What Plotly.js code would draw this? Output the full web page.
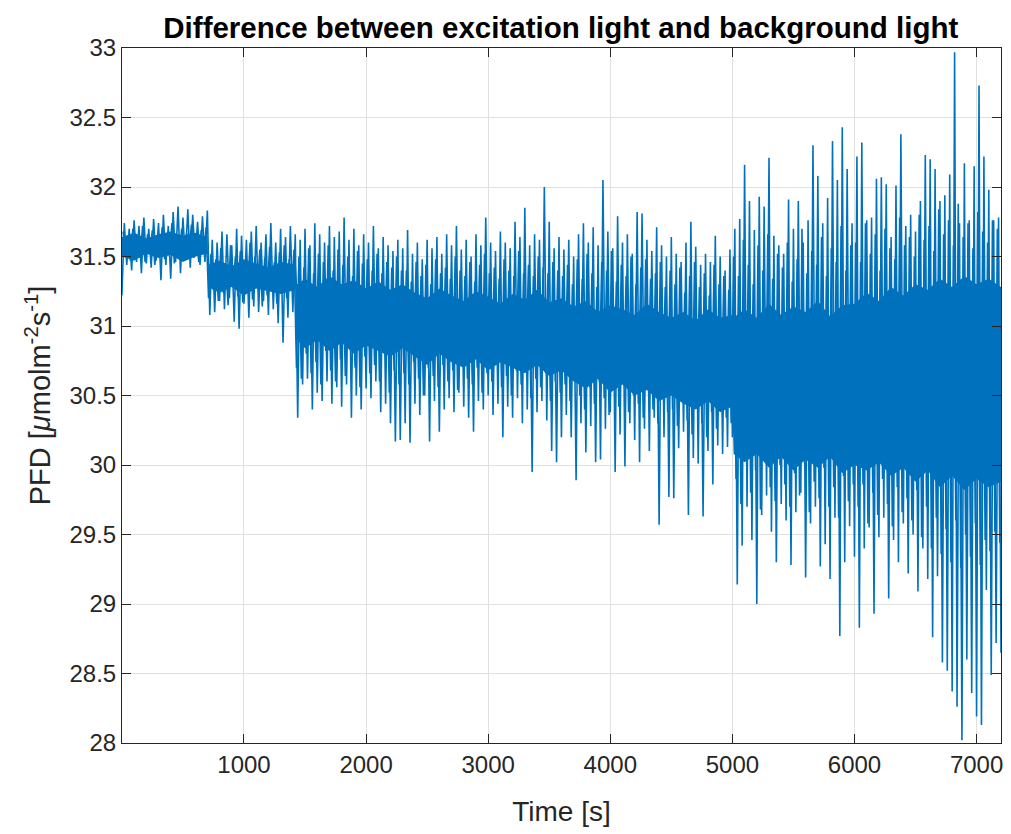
<!DOCTYPE html>
<html>
<head>
<meta charset="utf-8">
<script src="https://cdn.plot.ly/plotly-3.0.1.min.js"></script>
<style>html,body{margin:0;padding:0;background:#fff;}#chart{width:1011px;height:834px;}</style>
</head>
<body>
<div id="chart"></div>
<script>
// sampling step of the read-off series [s]
const timeStep = 20;

// PFD values: outer excursions (t = 0, 20, 40, ...)
const pfdSeg1 = [31.22,31.74,31.44,31.70,31.40,31.76,31.46,31.72,31.38,31.78,31.45,31.70,31.42,31.77,31.47,31.74,31.33,31.80,31.44,31.72,31.34,31.82,31.46,31.86,31.38,31.78,31.48,31.84,31.42,31.80,31.50,31.75,31.44,31.79,31.46,31.83];
const pfdSeg2 = [31.08,31.62,31.10,31.60,31.18,31.68,31.12,31.66,31.20,31.58,31.03,31.70,30.98,31.65,31.16,31.62,31.06,31.68,31.14,31.72,31.10,31.60,31.18,31.66,31.08,31.74,31.12,31.60,31.02,31.70,30.88,31.64,31.06,31.72,31.10,31.66];
const pfdSeg3 = [30.34,31.62,30.58,31.70,30.62,31.58,30.40,31.74,30.52,31.66,30.46,31.60,30.60,31.72,30.44,31.64,30.56,31.68,30.42,31.78,30.58,31.62,30.34,31.70,30.50,31.58,30.40,31.66,30.55,31.60,30.48,31.72,30.60,31.56,30.38,31.64,30.44,31.58,30.30,31.54,30.17,31.62,30.18,31.56];
const pfdSeg4 = [30.30,31.69,30.16,31.52,30.44,31.60,30.36,31.48,30.50,31.62,30.17,31.56,30.46,31.64,30.24,31.52,30.40,31.66,30.48,31.58,30.38,31.72,30.52,31.55,30.42,31.62,30.34,31.50,30.24,31.66,30.46,31.58,30.40,31.78,30.50,31.60,30.36,31.54,30.44,31.68,30.20,31.60,30.42,31.56,30.34,31.75,30.48,31.64,30.30,31.85,30.40,31.58,29.95,31.66,30.38,31.62,30.46,32.00,30.32,31.75,30.10,31.56,30.02,31.64];
const pfdSeg5 = [30.20,31.55,30.36,31.62,30.20,31.50,29.89,31.66,30.30,31.74,30.09,31.60,30.28,31.71,30.02,31.58,30.04,32.05,30.26,31.68,30.38,31.56,29.95,31.79,30.22,31.60,29.99,31.66,30.30,31.52,30.18,31.82,30.02,31.81,30.26,31.62,30.10,31.54,30.34,31.71,29.57,31.58,30.20,31.50,29.77,31.64];
const pfdSeg6 = [29.76,31.52,30.12,31.46,30.24,31.60,29.64,31.75,30.05,31.57,30.01,31.44,29.63,31.52,30.10,31.46,29.86,31.65,30.14,31.50,30.08,31.40,30.13,31.55,30.20];
const pfdSeg7 = [31.70,29.14,31.77,29.42,32.16,29.70,31.90,29.46,31.69,29.00,31.93,29.64,31.86,29.78,32.21,29.52,31.65,29.30,31.58,29.72,31.52,29.60,31.91,29.28,31.70,29.66,31.90,29.80,31.60,29.19,31.76,29.58,32.30,29.70,32.08,29.27,31.74,29.43,31.92,29.18,32.33,29.62,32.05,28.77,32.43,29.30,32.13,29.56,31.74,29.34];
const pfdSeg8 = [32.22,28.83,32.32,29.40,31.76,29.55,31.78,28.93,32.06,29.48,32.07,29.62,32.02,29.04,31.64,29.46,32.01,29.30,32.38,29.58,31.72,29.22,31.80,29.50,31.68,29.09,31.90,29.40,32.23,29.18,32.20,28.76,32.13,29.20,31.90,28.58,31.94,28.52,32.09,28.37,32.97,28.26,31.74,28.02,32.17,28.60,31.76,28.36,32.15,28.19,32.73,28.13,32.22,29.10,31.98,28.49,31.76,28.72,31.78,28.65];

// PFD values: inner (smaller) excursions (t = 10, 30, 50, ...)
const innerSeg1 = [31.68,31.50,31.64,31.47,31.70,31.52,31.62,31.49,31.72,31.46,31.66,31.53,31.69,31.44,31.63,31.50,31.71,31.48,31.66,31.51,31.74,31.45,31.65,31.52,31.70,31.47,31.67,31.54,31.73,31.49,31.64,31.46,31.69,31.52,31.71];
const innerSeg2 = [31.20,31.52,31.26,31.48,31.18,31.56,31.24,31.45,31.15,31.58,31.28,31.50,31.21,31.54,31.17,31.47,31.25,31.60,31.19,31.50,31.27,31.55,31.14,31.49,31.22,31.57,31.26,31.46,31.16,31.53,31.23,31.58,31.20,31.48,31.25,31.55];
const innerSeg3 = [30.70,31.50,30.62,31.42,30.80,31.56,30.66,31.38,30.74,31.52,30.58,31.46,30.82,31.58,30.68,31.40,30.60,31.55,30.76,31.44,30.64,31.50,30.84,31.36,30.70,31.54,30.56,31.45,30.78,31.48,30.66,31.40,30.72,31.52,30.60,31.38,30.80,31.46,30.52,31.42,30.68,31.50,30.58,31.40];
const innerSeg4 = [30.66,31.40,30.58,31.32,30.74,31.46,30.62,31.36,30.50,31.44,30.70,31.30,30.64,31.48,30.56,31.38,30.72,31.42,30.60,31.34,30.68,31.50,30.54,31.40,30.76,31.36,30.62,31.46,30.58,31.32,30.70,31.44,30.52,31.52,30.66,31.38,30.60,31.42,30.74,31.34,30.56,31.48,30.64,31.40,30.50,31.36,30.68,31.54,30.58,31.38,30.72,31.44,30.48,31.36,30.62,31.50,30.56,31.42,30.66,31.38,30.46,31.46,30.60,31.40,30.52];
const innerSeg5 = [31.36,30.58,31.44,30.46,31.30,30.62,31.48,30.50,31.34,30.40,31.52,30.56,31.38,30.44,31.28,30.60,31.46,30.48,31.40,30.36,31.54,30.54,31.32,30.42,31.44,30.58,31.36,30.38,31.50,30.50,31.30,30.44,31.42,30.34,31.48,30.56,31.34,30.40,31.38,30.30,31.46,30.52,31.28,30.38,31.40];
const innerSeg6 = [30.40,31.30,30.28,31.42,30.46,31.24,30.32,31.36,30.22,31.46,30.42,31.28,30.30,31.38,30.20,31.22,30.38,31.44,30.26,31.30,30.44,31.36,30.34,31.26,30.30];
const innerSeg7 = [31.50,29.90,31.36,29.72,31.62,30.04,31.44,29.80,31.30,29.96,31.58,29.68,31.40,30.06,31.66,29.84,31.34,29.74,31.52,30.00,31.42,29.86,31.60,29.70,31.32,29.94,31.48,29.78,31.70,30.02,31.38,29.66,31.54,29.88,31.44,29.76,31.64,29.98,31.36,29.70,31.56,29.84,31.46,29.62,31.72,29.92,31.40,29.74,31.58,29.86];
const innerSeg8 = [31.60,29.70,31.46,29.86,31.74,29.58,31.52,29.80,31.66,29.64,31.40,29.90,31.70,29.72,31.56,29.56,31.48,29.84,31.78,29.66,31.58,29.76,31.64,29.60,31.50,29.82,31.80,29.48,31.62,29.70,31.72,29.40,31.54,29.62,31.84,29.36,31.66,29.54,31.76,29.30,31.58,29.60,31.88,29.26,31.64,29.50,31.74,29.34,31.56,29.58,31.82,29.28,31.68,29.46,31.60,29.38,31.76,29.52,31.70,29.44];

// solid core of the signal (upper and lower edge of the densely filled band)
const coreTime = [0,100,200,300,400,500,600,700,706,800,900,1000,1100,1200,1300,1425,1435,1500,1600,1700,1800,1900,2000,2100,2200,2300,2400,2500,2600,2700,2800,2900,3000,3100,3200,3300,3400,3500,3600,3700,3800,3900,4000,4100,4200,4300,4400,4500,4600,4700,4800,4900,5000,5010,5100,5200,5300,5400,5500,5600,5700,5800,5900,6000,6100,6200,6300,6400,6500,6600,6700,6800,6900,7000,7100,7200];
const coreHigh = [31.64,31.67,31.63,31.66,31.68,31.65,31.67,31.64, 31.44, 31.47,31.43,31.48,31.45,31.42,31.46, 31.44, 31.30,
  31.34,31.28,31.36,31.30,31.33,31.27,31.32,31.26,31.30,
  31.24,31.20,31.27,31.22,31.18,31.25,31.21,31.16,31.23,31.19,31.26,31.17,31.20,
  31.14,31.18,31.10,31.15,31.12,31.08,31.16,31.10,31.06,
  31.10,31.04,31.12,31.06,31.08, 31.06,
  31.12,31.06,31.16,31.08,31.14,31.10,31.18,31.07,31.15,31.16,
  31.24,31.18,31.28,31.22,31.30,31.26,31.34,31.28,31.36,31.30,31.34,31.28];
const coreLow = [31.50,31.47,31.52,31.49,31.51,31.46,31.50,31.52, 31.28, 31.24,31.28,31.22,31.27,31.25,31.23, 31.26, 30.90,
  30.84,30.90,30.82,30.88,30.80,30.86,30.82,30.78,30.84,
  30.78,30.72,30.80,30.74,30.70,30.76,30.68,30.74,30.70,30.66,30.72,30.64,30.68,
  30.60,30.55,30.62,30.52,30.58,30.50,30.54,30.46,30.50,
  30.44,30.40,30.46,30.38,30.42, 30.08,
  30.02,30.08,29.98,30.06,29.96,30.04,29.98,30.06,29.94,30.00,
  29.96,30.02,29.92,29.98,29.88,29.96,29.84,29.92,29.82,29.90,29.84,29.88];

const xTicks = [1000, 2000, 3000, 4000, 5000, 6000, 7000];
const yTicks = [28, 28.5, 29, 29.5, 30, 30.5, 31, 31.5, 32, 32.5, 33];

const pfd = [].concat(pfdSeg1, pfdSeg2, pfdSeg3, pfdSeg4, pfdSeg5, pfdSeg6, pfdSeg7, pfdSeg8);
const time = pfd.map((_, i) => i * timeStep);
const inner = [].concat(innerSeg1, innerSeg2, innerSeg3, innerSeg4, innerSeg5, innerSeg6, innerSeg7, innerSeg8);
const innerTime = inner.map((_, i) => timeStep / 2 + i * timeStep);

const blue = '#0072BD';
const font = 'Liberation Sans, Arial, Helvetica, sans-serif';
const traces = [
  {x: coreTime, y: coreLow, mode: 'lines', line: {width: 0, color: blue}, hoverinfo: 'skip', showlegend: false},
  {x: coreTime, y: coreHigh, mode: 'lines', fill: 'tonexty', fillcolor: blue, line: {width: 0, color: blue}, hoverinfo: 'skip', showlegend: false},
  {x: innerTime, y: inner, mode: 'lines', line: {width: 1.6, color: blue}, showlegend: false},
  {x: time, y: pfd, mode: 'lines', line: {width: 1.6, color: blue}, showlegend: false}
];

const axisCommon = {
  showline: true, linecolor: '#262626', linewidth: 1, mirror: 'ticks',
  ticks: 'inside', ticklen: 9, tickwidth: 1, tickcolor: '#262626',
  showgrid: true, gridcolor: '#e0e0e0', gridwidth: 1, zeroline: false,
  tickfont: {family: font, size: 24, color: '#262626'}
};

const layout = {
  width: 1011, height: 834,
  margin: {l: 122, r: 10, t: 48, b: 91},
  paper_bgcolor: '#ffffff', plot_bgcolor: '#ffffff',
  title: {text: '<b>Difference between excitation light and background light</b>',
          font: {family: font, size: 29.5, color: '#000000'},
          x: 0.5547, xanchor: 'center', y: 0.967, yref: 'container', yanchor: 'middle'},
  xaxis: Object.assign({}, axisCommon, {
    range: [1, 7200], tickvals: xTicks, ticktext: xTicks.map(String),
    title: {text: 'Time [s]', font: {family: font, size: 28, color: '#262626'}, standoff: 24}
  }),
  yaxis: Object.assign({}, axisCommon, {
    range: [28, 33], tickvals: yTicks, ticktext: yTicks.map(String),
    title: {text: 'PFD [<i>μ</i>molm<sup>-2</sup>s<sup>-1</sup>]', font: {family: font, size: 29, color: '#262626'}, standoff: 10}
  }),
  showlegend: false
};

Plotly.newPlot('chart', traces, layout, {displayModeBar: false, staticPlot: true});
</script>
</body>
</html>
